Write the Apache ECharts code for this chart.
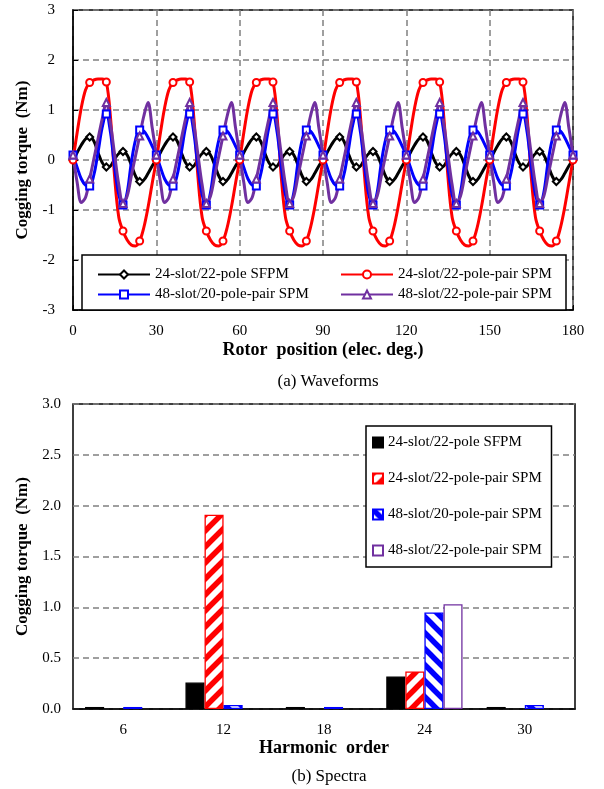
<!DOCTYPE html>
<html>
<head>
<meta charset="utf-8">
<script src="https://cdn.jsdelivr.net/npm/echarts@6/dist/echarts.min.js"></script>
<style>
  html, body { margin: 0; padding: 0; background: #fff; }
  #main { width: 604px; height: 789px; }
</style>
</head>
<body>
<div id="main"></div>
<script>
// ---- waveform data, 1.5 elec. deg steps, 0..180 ----
var rotorStep = 1.5;
var wfNames = ['24-slot/22-pole SFPM', '24-slot/22-pole-pair SPM', '48-slot/20-pole-pair SPM', '48-slot/22-pole-pair SPM'];
var wfSFPM24 = [
  0.0,0.15,0.3,0.42,0.46,0.38,0.15,-0.05,-0.14,-0.12,0.02,0.13,0.17,0.1,-0.1,-0.32,-0.43,-0.4,-0.27,-0.12,
  0.0,0.15,0.3,0.42,0.46,0.38,0.15,-0.05,-0.14,-0.12,0.02,0.13,0.17,0.1,-0.1,-0.32,-0.43,-0.4,-0.27,-0.12,
  0.0,0.15,0.3,0.42,0.46,0.38,0.15,-0.05,-0.14,-0.12,0.02,0.13,0.17,0.1,-0.1,-0.32,-0.43,-0.4,-0.27,-0.12,
  0.0,0.15,0.3,0.42,0.46,0.38,0.15,-0.05,-0.14,-0.12,0.02,0.13,0.17,0.1,-0.1,-0.32,-0.43,-0.4,-0.27,-0.12,
  0.0,0.15,0.3,0.42,0.46,0.38,0.15,-0.05,-0.14,-0.12,0.02,0.13,0.17,0.1,-0.1,-0.32,-0.43,-0.4,-0.27,-0.12,
  0.0,0.15,0.3,0.42,0.46,0.38,0.15,-0.05,-0.14,-0.12,0.02,0.13,0.17,0.1,-0.1,-0.32,-0.43,-0.4,-0.27,-0.12,
  0.0
];
var wfSPM24 = [
  0.0,0.55,1.05,1.4,1.55,1.6,1.62,1.62,1.56,0.85,-0.35,-1.15,-1.42,-1.6,-1.7,-1.72,-1.62,-1.35,-0.95,-0.47,
  0.0,0.55,1.05,1.4,1.55,1.6,1.62,1.62,1.56,0.85,-0.35,-1.15,-1.42,-1.6,-1.7,-1.72,-1.62,-1.35,-0.95,-0.47,
  0.0,0.55,1.05,1.4,1.55,1.6,1.62,1.62,1.56,0.85,-0.35,-1.15,-1.42,-1.6,-1.7,-1.72,-1.62,-1.35,-0.95,-0.47,
  0.0,0.55,1.05,1.4,1.55,1.6,1.62,1.62,1.56,0.85,-0.35,-1.15,-1.42,-1.6,-1.7,-1.72,-1.62,-1.35,-0.95,-0.47,
  0.0,0.55,1.05,1.4,1.55,1.6,1.62,1.62,1.56,0.85,-0.35,-1.15,-1.42,-1.6,-1.7,-1.72,-1.62,-1.35,-0.95,-0.47,
  0.0,0.55,1.05,1.4,1.55,1.6,1.62,1.62,1.56,0.85,-0.35,-1.15,-1.42,-1.6,-1.7,-1.72,-1.62,-1.35,-0.95,-0.47,
  0.0
];
var wfSPM48p20 = [
  0.1,-0.15,-0.38,-0.5,-0.52,-0.3,0.15,0.65,0.92,0.55,-0.15,-0.7,-0.9,-0.65,-0.05,0.4,0.6,0.58,0.45,0.28,
  0.1,-0.15,-0.38,-0.5,-0.52,-0.3,0.15,0.65,0.92,0.55,-0.15,-0.7,-0.9,-0.65,-0.05,0.4,0.6,0.58,0.45,0.28,
  0.1,-0.15,-0.38,-0.5,-0.52,-0.3,0.15,0.65,0.92,0.55,-0.15,-0.7,-0.9,-0.65,-0.05,0.4,0.6,0.58,0.45,0.28,
  0.1,-0.15,-0.38,-0.5,-0.52,-0.3,0.15,0.65,0.92,0.55,-0.15,-0.7,-0.9,-0.65,-0.05,0.4,0.6,0.58,0.45,0.28,
  0.1,-0.15,-0.38,-0.5,-0.52,-0.3,0.15,0.65,0.92,0.55,-0.15,-0.7,-0.9,-0.65,-0.05,0.4,0.6,0.58,0.45,0.28,
  0.1,-0.15,-0.38,-0.5,-0.52,-0.3,0.15,0.65,0.92,0.55,-0.15,-0.7,-0.9,-0.65,-0.05,0.4,0.6,0.58,0.45,0.28,
  0.1
];
var wfSPM48p22 = [
  0.1,-0.45,-0.85,-0.75,-0.38,0.02,0.42,0.82,1.15,0.72,0.1,-0.5,-0.87,-0.72,-0.32,0.08,0.48,0.88,1.15,0.65,
  0.1,-0.45,-0.85,-0.75,-0.38,0.02,0.42,0.82,1.15,0.72,0.1,-0.5,-0.87,-0.72,-0.32,0.08,0.48,0.88,1.15,0.65,
  0.1,-0.45,-0.85,-0.75,-0.38,0.02,0.42,0.82,1.15,0.72,0.1,-0.5,-0.87,-0.72,-0.32,0.08,0.48,0.88,1.15,0.65,
  0.1,-0.45,-0.85,-0.75,-0.38,0.02,0.42,0.82,1.15,0.72,0.1,-0.5,-0.87,-0.72,-0.32,0.08,0.48,0.88,1.15,0.65,
  0.1,-0.45,-0.85,-0.75,-0.38,0.02,0.42,0.82,1.15,0.72,0.1,-0.5,-0.87,-0.72,-0.32,0.08,0.48,0.88,1.15,0.65,
  0.1,-0.45,-0.85,-0.75,-0.38,0.02,0.42,0.82,1.15,0.72,0.1,-0.5,-0.87,-0.72,-0.32,0.08,0.48,0.88,1.15,0.65,
  0.1
];

// ---- spectrum data ----
var harmonicOrders = ['6', '12', '18', '24', '30'];
var specSFPM24 = [0.02, 0.26, 0.02, 0.32, 0.02];
var specSPM24 = [0, 1.91, 0, 0.37, 0];
var specSPM48p20 = [0.02, 0.04, 0.02, 0.95, 0.04];
var specSPM48p22 = [0, 0, 0, 1.03, 0];

var FONT = 'Liberation Serif';
var PURPLE = '#7030A0';

function toPoints(vals) {
  return vals.map(function (v, i) {
    var p = { value: [i * rotorStep, v] };
    if (i % 4 !== 0) p.symbol = 'none';
    return p;
  });
}

function stripes(color, forward) {
  var s = 16;
  var c = document.createElement('canvas');
  c.width = s; c.height = s;
  var g = c.getContext('2d');
  g.fillStyle = '#fff';
  g.fillRect(0, 0, s, s);
  g.strokeStyle = color;
  g.lineWidth = 5.5;
  g.beginPath();
  for (var k = -1; k <= 1; k++) {
    if (forward) {
      g.moveTo(k * s - 2, s + 2); g.lineTo(k * s + s + 2, -2);
    } else {
      g.moveTo(k * s - 2, -2); g.lineTo(k * s + s + 2, s + 2);
    }
  }
  g.stroke();
  return c;
}

var chart = echarts.init(document.getElementById('main'));

function lineSeries(name, vals, color, symbol) {
  return {
    name: name, type: 'line', xAxisIndex: 0, yAxisIndex: 0,
    data: toPoints(vals), smooth: 0.35, showAllSymbol: true,
    symbol: symbol, symbolSize: 7,
    lineStyle: { color: color, width: 3 },
    itemStyle: { color: color, borderColor: color, borderWidth: 1.5 },
    animation: false
  };
}

function barSeries(name, vals, fill, border) {
  return {
    name: name, type: 'bar', xAxisIndex: 1, yAxisIndex: 1,
    // zero-valued bars get no outline so nothing shows on the axis
    data: vals.map(function (v) {
      return v === 0 ? { value: v, itemStyle: { borderWidth: 0, opacity: 0 } } : v;
    }),
    barGap: 0, barCategoryGap: '24%',
    itemStyle: { color: fill, borderColor: border, borderWidth: 1.3 },
    animation: false
  };
}

var option = {
  backgroundColor: '#fff',
  animation: false,
  title: [
    { text: '(a) Waveforms', left: 323, top: 368, textAlign: 'center',
      textStyle: { fontFamily: FONT, fontSize: 17, fontWeight: 'normal', color: '#000' } },
    { text: '(b) Spectra', left: 324, top: 763, textAlign: 'center',
      textStyle: { fontFamily: FONT, fontSize: 17, fontWeight: 'normal', color: '#000' } }
  ],
  grid: [
    { left: 73, top: 10, width: 500, height: 300, show: true, borderColor: '#000', borderWidth: 1.5, backgroundColor: 'transparent' },
    { left: 73, top: 404, width: 502, height: 305, show: true, borderColor: '#000', borderWidth: 1.5, backgroundColor: 'transparent' }
  ],
  xAxis: [
    { type: 'value', gridIndex: 0, min: 0, max: 180, interval: 30,
      axisLine: { onZero: false, lineStyle: { color: '#000', width: 1.5 } },
      axisTick: { inside: true, length: 5, lineStyle: { color: '#000' } },
      axisLabel: { margin: 14, fontSize: 15, fontFamily: FONT, color: '#000' },
      splitLine: { show: true, lineStyle: { color: '#808080', width: 1.5, type: [6, 4] } },
      name: 'Rotor  position (elec. deg.)', nameLocation: 'middle', nameGap: 31,
      nameTextStyle: { fontFamily: FONT, fontSize: 18, fontWeight: 'bold', color: '#000' } },
    { type: 'category', gridIndex: 1, data: harmonicOrders,
      axisLine: { lineStyle: { color: '#000', width: 1.5 } },
      axisTick: { inside: true, length: 5, lineStyle: { color: '#000' } },
      axisLabel: { margin: 14, fontSize: 15, fontFamily: FONT, color: '#000' },
      splitLine: { show: false },
      name: 'Harmonic  order', nameLocation: 'middle', nameGap: 30,
      nameTextStyle: { fontFamily: FONT, fontSize: 18, fontWeight: 'bold', color: '#000' } }
  ],
  yAxis: [
    { type: 'value', gridIndex: 0, min: -3, max: 3, interval: 1,
      axisLine: { onZero: false, lineStyle: { color: '#000', width: 1.5 } },
      axisTick: { inside: true, length: 5, lineStyle: { color: '#000' } },
      axisLabel: { margin: 18, fontSize: 15, fontFamily: FONT, color: '#000' },
      splitLine: { show: true, lineStyle: { color: '#808080', width: 1.5, type: [6, 4] } },
      name: 'Cogging torque  (Nm)', nameLocation: 'middle', nameGap: 42,
      nameTextStyle: { fontFamily: FONT, fontSize: 17, fontWeight: 'bold', color: '#000' } },
    { type: 'value', gridIndex: 1, min: 0, max: 3, interval: 0.5,
      axisLine: { lineStyle: { color: '#000', width: 1.5 } },
      axisTick: { show: false },
      axisLabel: { margin: 12, fontSize: 15, fontFamily: FONT, color: '#000',
        formatter: function (v) { return v.toFixed(1); } },
      splitLine: { show: true, lineStyle: { color: '#808080', width: 1.5, type: [6, 4] } },
      name: 'Cogging torque  (Nm)', nameLocation: 'middle', nameGap: 42,
      nameTextStyle: { fontFamily: FONT, fontSize: 17, fontWeight: 'bold', color: '#000' } }
  ],
  legend: [
    { data: [wfNames[0], wfNames[2]], orient: 'vertical', left: 92, top: 262,
      itemWidth: 52, itemHeight: 10, itemGap: 5, z: 6,
      textStyle: { fontFamily: FONT, fontSize: 15, color: '#000' } },
    { data: [wfNames[1], wfNames[3]], orient: 'vertical', left: 335, top: 262,
      itemWidth: 52, itemHeight: 10, itemGap: 5, z: 6,
      textStyle: { fontFamily: FONT, fontSize: 15, color: '#000' } },
    { data: ['24-slot/22-pole SFPM ', '24-slot/22-pole-pair SPM ', '48-slot/20-pole-pair SPM ', '48-slot/22-pole-pair SPM '],
      orient: 'vertical', left: 366, top: 426, icon: 'rect',
      itemWidth: 10, itemHeight: 10, itemGap: 21, padding: [9, 6, 9, 6],
      backgroundColor: '#fff', borderColor: '#000', borderWidth: 1.5,
      textStyle: { fontFamily: FONT, fontSize: 15, color: '#000' } }
  ],
  graphic: [
    { type: 'rect', z: 5, shape: { x: 82, y: 255, width: 484, height: 55 },
      style: { fill: '#fff', stroke: '#000', lineWidth: 1.5 } }
  ],
  series: [
    lineSeries(wfNames[0], wfSFPM24, '#000000', 'emptyDiamond'),
    lineSeries(wfNames[1], wfSPM24, '#FF0000', 'emptyCircle'),
    lineSeries(wfNames[2], wfSPM48p20, '#0000FF', 'emptyRect'),
    lineSeries(wfNames[3], wfSPM48p22, PURPLE, 'emptyTriangle'),
    barSeries('24-slot/22-pole SFPM ', specSFPM24, '#000000', '#000000'),
    barSeries('24-slot/22-pole-pair SPM ', specSPM24, { image: stripes('#FF0000', true), repeat: 'repeat' }, '#FF0000'),
    barSeries('48-slot/20-pole-pair SPM ', specSPM48p20, { image: stripes('#0000FF', false), repeat: 'repeat' }, '#0000FF'),
    barSeries('48-slot/22-pole-pair SPM ', specSPM48p22, '#FFFFFF', PURPLE)
  ]
};

chart.setOption(option);
</script>
</body>
</html>
